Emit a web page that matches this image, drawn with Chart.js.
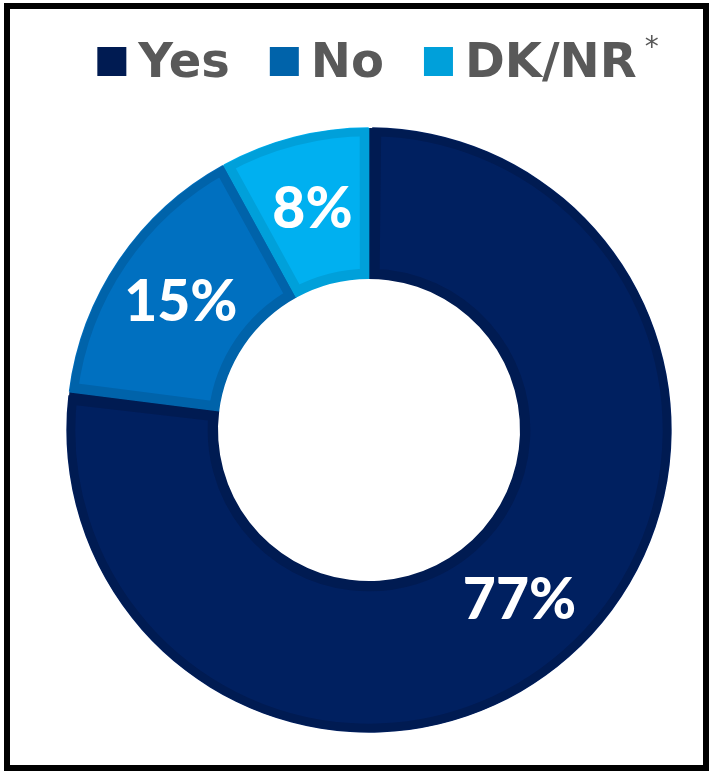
<!DOCTYPE html>
<html>
<head>
<meta charset="utf-8">
<script src="https://cdn.jsdelivr.net/npm/chart.js@4.4.1/dist/chart.umd.min.js"></script>
<style>
    html, body { margin: 0; padding: 0; background: #fff; }
    #frame {
        position: absolute; left: 4px; top: 3px; width: 705px; height: 768px;
        border: 6px solid #000; box-sizing: border-box;
    }
    #chart { position: absolute; left: 0; top: 0; }
</style>
</head>
<body>
<div id="frame"></div>
<canvas id="chart" width="710" height="774"></canvas>
<script>
const labels = ['Yes', 'No', 'DK/NR'];
const values = [77, 15, 8];
const footnotes = ['', '', '*'];
const fillColors = ['#002060', '#0070C0', '#00B0F0'];
const edgeColors = ['#001B52', '#0063AA', '#00A0DA'];

const LABEL_FONT = 'Lato, "Open Sans", sans-serif';
const LEGEND_FONT = '"DejaVu Sans", sans-serif';

// white percentage labels at each slice centroid
const sliceLabels = {
    id: 'sliceLabels',
    afterDatasetsDraw(chart) {
        const ctx = chart.ctx;
        const meta = chart.getDatasetMeta(0);
        ctx.save();
        ctx.fillStyle = '#fff';
        ctx.font = `900 57px ${LABEL_FONT}`;
        ctx.textAlign = 'center';
        ctx.textBaseline = 'middle';
        meta.data.forEach((arc, i) => {
            const p = arc.tooltipPosition();
            ctx.fillText(chart.data.datasets[0].data[i] + '%', p.x, p.y);
        });
        ctx.restore();
    }
};

// legend row across the top, with the footnote mark as a superscript
const topLegend = {
    id: 'topLegend',
    afterDraw(chart) {
        const ctx = chart.ctx;
        const box = 29, gapText = 12, gapItem = 40, baseline = 77;
        ctx.save();
        ctx.font = `bold 48px ${LEGEND_FONT}`;
        const widths = chart.data.labels.map(l => ctx.measureText(l).width);
        ctx.font = `28px ${LEGEND_FONT}`;
        const noteW = footnotes.map(n => n ? ctx.measureText(n).width + 8 : 0);
        let total = 0;
        widths.forEach((w, i) => { total += box + gapText + w + noteW[i]; });
        total += gapItem * (widths.length - 1);
        let x = 378 - total / 2;
        chart.data.labels.forEach((label, i) => {
            ctx.fillStyle = edgeColors[i];
            ctx.fillRect(x, 47, box, box);
            ctx.fillStyle = '#595959';
            ctx.font = `bold 48px ${LEGEND_FONT}`;
            ctx.textBaseline = 'alphabetic';
            ctx.textAlign = 'left';
            const tx = x + box + gapText;
            ctx.fillText(label, tx, baseline);
            if (footnotes[i]) {
                ctx.font = `28px ${LEGEND_FONT}`;
                ctx.fillText(footnotes[i], tx + widths[i] + 8, 56);
            }
            x = tx + widths[i] + noteW[i] + gapItem;
        });
        ctx.restore();
    }
};

new Chart(document.getElementById('chart'), {
    type: 'doughnut',
    data: {
        labels,
        datasets: [{
            data: values,
            backgroundColor: fillColors,
            borderColor: edgeColors,
            borderWidth: 9,
            borderAlign: 'inner',
            spacing: 2
        }]
    },
    options: {
        responsive: false,
        animation: false,
        cutout: '50%',
        layout: { padding: { top: 127, left: 66, right: 38, bottom: 41 } },
        plugins: {
            legend: { display: false },
            tooltip: { enabled: false }
        }
    },
    plugins: [sliceLabels, topLegend]
});
</script>
</body>
</html>
